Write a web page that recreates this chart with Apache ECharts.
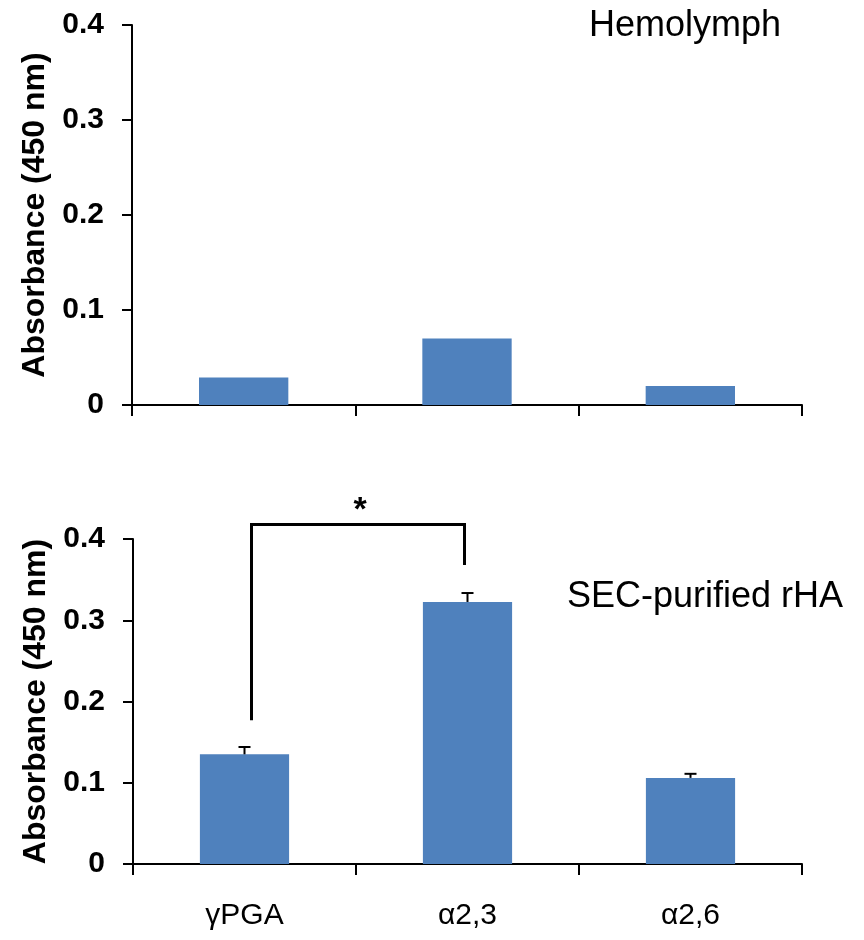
<!DOCTYPE html>
<html>
<head>
<meta charset="utf-8">
<script src="https://cdn.jsdelivr.net/npm/echarts@6/dist/echarts.min.js"></script>
<style>html,body{margin:0;padding:0;background:#fff;}#c{width:864px;height:940px;}</style>
</head>
<body>
<div id="c"></div>
<script>
// ---- data ----
var categories = ['γPGA', 'α2,3', 'α2,6'];
var yTicks = [0, 0.1, 0.2, 0.3, 0.4];
var hemolymphValues = [0.029, 0.070, 0.020];
var secValues = [0.135, 0.3225, 0.106];
var secErrors = [0.009, 0.011, 0.005];
// significance bracket: [fromCategory, toCategory, leftLegBottom, rightLegBottom, bracketTop, starY]
var bracket = [0, 1, 0.177, 0.368, 0.418, 0.445];
var yTitle = 'Absorbance (450 nm)';
var topLabel = 'Hemolymph';
var bottomLabel = 'SEC-purified rHA';

var FONT = '"Liberation Sans", Arial, sans-serif';
var BAR = '#4F81BD';

function yAxisCfg(gi) {
  return {
    gridIndex: gi, type: 'value', min: 0, max: 0.4, interval: 0.1,
    name: yTitle, nameLocation: 'middle', nameGap: 78,
    nameTextStyle: {fontFamily: FONT, fontWeight: 'bold', fontSize: 32, color: '#000'},
    axisLine: {show: true, lineStyle: {color: '#000', width: 2}},
    axisTick: {show: true, inside: false, length: 10, lineStyle: {color: '#000', width: 2}},
    splitLine: {show: false},
    axisLabel: {margin: 28, fontFamily: FONT, fontWeight: 'bold', fontSize: 30, color: '#000',
      formatter: function (v) { return v === 0 ? '0' : v.toFixed(1); }}
  };
}
function xAxisCfg(gi, showLabels) {
  return {
    gridIndex: gi, type: 'category', data: categories, boundaryGap: true,
    axisLine: {show: true, lineStyle: {color: '#000', width: 2}},
    axisTick: {show: true, inside: false, length: 11, alignWithLabel: false, lineStyle: {color: '#000', width: 2}},
    axisLabel: {show: showLabels, margin: 37, fontFamily: FONT, fontSize: 30, color: '#000'}
  };
}

var chart = echarts.init(document.getElementById('c'), null, {renderer: 'canvas'});
chart.setOption({
  backgroundColor: '#fff',
  animation: false,
  grid: [
    {left: 132, right: 62, top: 25, height: 380},
    {left: 133, right: 62, top: 539, height: 325}
  ],
  xAxis: [xAxisCfg(0, false), xAxisCfg(1, true)],
  yAxis: [yAxisCfg(0), yAxisCfg(1)],
  graphic: [
    {type: 'text', left: 589, top: 8, style: {text: topLabel, font: '36px ' + FONT, fill: '#000'}},
    {type: 'text', left: 567, top: 579, style: {text: bottomLabel, font: '36px ' + FONT, fill: '#000'}}
  ],
  series: [
    {type: 'bar', xAxisIndex: 0, yAxisIndex: 0, data: hemolymphValues, barWidth: '40%',
      itemStyle: {color: BAR}},
    {type: 'bar', xAxisIndex: 1, yAxisIndex: 1, data: secValues, barWidth: '40%',
      itemStyle: {color: BAR}},
    {type: 'custom', xAxisIndex: 1, yAxisIndex: 1, clip: false, z: 5,
      data: secValues.map(function (v, i) { return [i, v, secErrors[i]]; }),
      encode: {x: 0, y: 1},
      renderItem: function (params, api) {
        var i = api.value(0), v = api.value(1), e = api.value(2);
        var p0 = api.coord([i, v]);
        var p1 = api.coord([i, v + e]);
        var st = {stroke: '#000', lineWidth: 2};
        return {type: 'group', children: [
          {type: 'line', shape: {x1: p0[0], y1: p0[1], x2: p1[0], y2: p1[1]}, style: st},
          {type: 'line', shape: {x1: p1[0] - 6, y1: p1[1], x2: p1[0] + 6, y2: p1[1]}, style: st}
        ]};
      }
    },
    {type: 'custom', xAxisIndex: 1, yAxisIndex: 1, clip: false, z: 5,
      data: [bracket], encode: {x: 0, y: 4},
      renderItem: function (params, api) {
        var a = api.value(0), b = api.value(1);
        var l0 = api.coord([a, api.value(2)]);
        var lt = api.coord([a, api.value(4)]);
        var r0 = api.coord([b, api.value(3)]);
        var rt = api.coord([b, api.value(4)]);
        var sy = api.coord([a, api.value(5)])[1];
        var xl = l0[0] + 7, xr = r0[0] - 3;
        var sx = (xl + xr) / 2 + 2;
        var st = {stroke: '#000', lineWidth: 3, fill: null};
        return {type: 'group', children: [
          {type: 'polyline', shape: {points: [[xl, l0[1]], [xl, lt[1]], [xr, rt[1]], [xr, r0[1]]]}, style: st},
          {type: 'text', x: sx, y: sy + 8, style: {text: '*', font: 'bold 34px ' + FONT, fill: '#000', align: 'center', verticalAlign: 'middle'}}
        ]};
      }
    }
  ]
});
</script>
</body>
</html>
